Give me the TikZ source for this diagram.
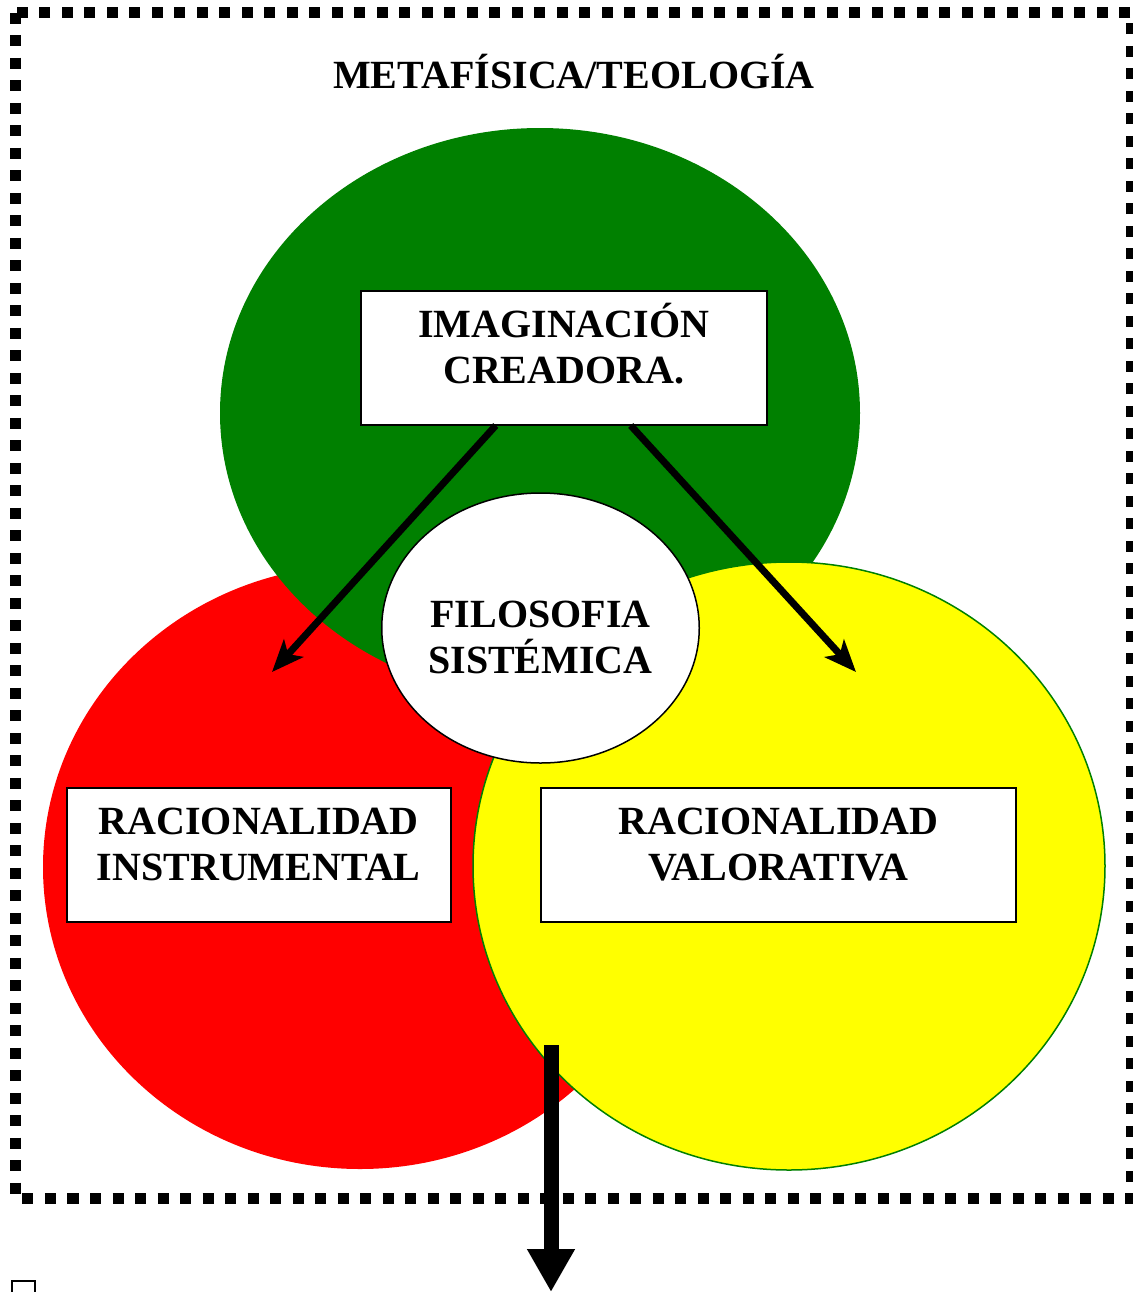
\documentclass[tikz,border=0pt]{standalone}
\usepackage{fontspec}
\setmainfont{Liberation Serif}
\usetikzlibrary{arrows.meta, shapes.geometric}
\definecolor{verde}{HTML}{008000}
\definecolor{rojo}{HTML}{FF0000}
\definecolor{amarillo}{HTML}{FFFF00}

\begin{document}
\begin{tikzpicture}[x=0.5pt, y=-0.5pt,
    texto/.style={font=\fontsize{20}{23}\selectfont\bfseries, align=center},
    caja/.style={draw, fill=white, line width=0.75pt, anchor=north west, texto, inner xsep=0pt, inner ysep=0pt, minimum width=#1},
    circulo/.style={draw=none, fill=#1},
    flecha/.style={line width=3.5pt, -{Stealth[length=16pt, width=13pt, inset=4pt]}},
]
\useasboundingbox (0,0) rectangle (1133,1292);

% Marco punteado
\draw[line width=5.5pt, dash pattern=on 5.5pt off 5.75pt] (15.5,12.5) rectangle (1131,1198);

% Titulo
\node[texto, anchor=base] (titulo) at (574,88) {METAFÍSICA/TEOLOGÍA};

% Circulos
\fill[rojo] (360,867) ellipse [x radius=317, y radius=302];
\fill[verde] (540,413) ellipse [x radius=320, y radius=285];
\draw[fill=amarillo, draw=verde, line width=0.75pt] (789,866) ellipse [x radius=316, y radius=304];

% Centro
\node[ellipse, draw, fill=white, line width=0.75pt, inner sep=0pt, minimum width=157.5pt, minimum height=135pt, texto] (filo) at (540.5,628)
    {\rule{0pt}{23pt}FILOSOFIA\\SISTÉMICA};

% Cajas
\node[caja=203pt] (imag) at (360,290)
    {\rule{0pt}{23.5pt}IMAGINACIÓN\\CREADORA.\rule[-20.5pt]{0pt}{20.5pt}};
\node[caja=192pt] (instr) at (66,787)
    {\rule{0pt}{23.5pt}RACIONALIDAD\\INSTRUMENTAL\rule[-20.5pt]{0pt}{20.5pt}};
\node[caja=237.5pt] (valor) at (540,787)
    {\rule{0pt}{23.5pt}RACIONALIDAD\\VALORATIVA\rule[-20.5pt]{0pt}{20.5pt}};

% Flechas
\coordinate (fin1) at (272,672);
\coordinate (fin2) at (856,672);
\draw[flecha] ([xshift=-34pt]imag.south) -- (fin1);
\draw[flecha] ([xshift=33.5pt]imag.south) -- (fin2);

\coordinate (salida) at (551,1045);
\coordinate (destino) at (551,1292);
\draw[line width=7.5pt, -{Triangle[width=22.5pt, length=21.5pt]}] (salida) -- (destino);

% Cuadro suelto
\draw[line width=0.6pt] (12,1281) rectangle (35,1304);

\end{tikzpicture}
\end{document}
